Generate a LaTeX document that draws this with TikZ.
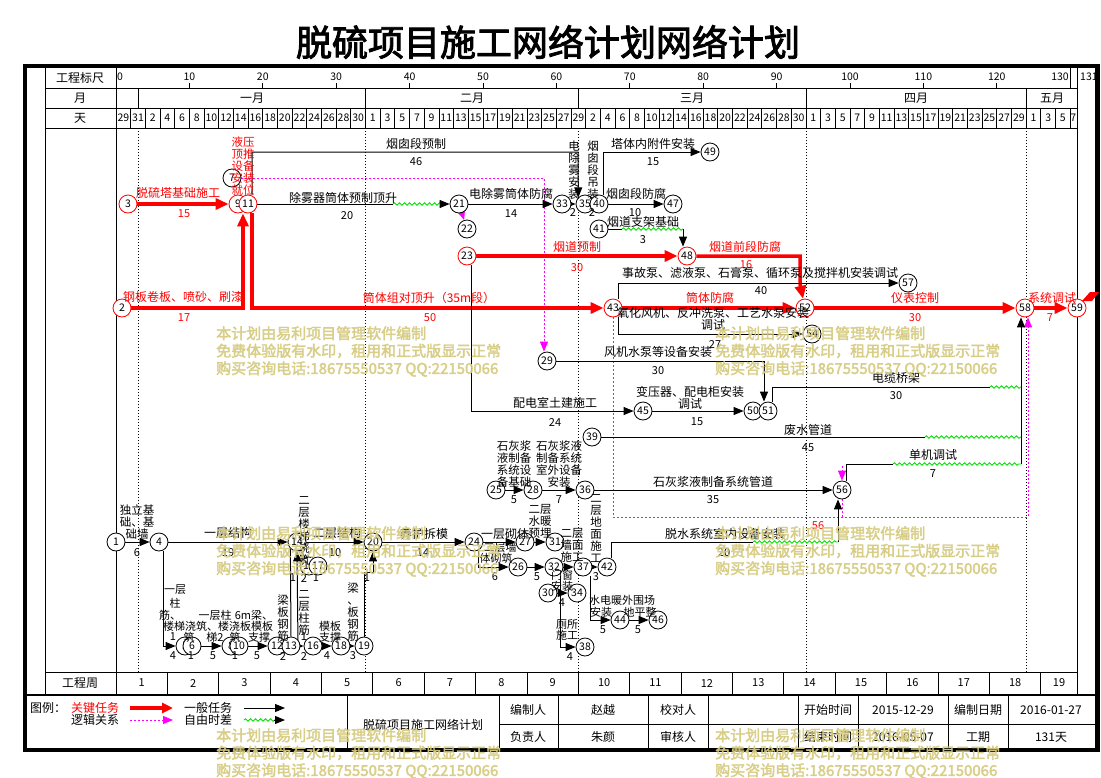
\documentclass[tikz,border=0pt]{standalone}
\usepackage{fontspec}
\setmainfont{Noto Sans CJK SC}
\newfontfamily\cjkb[FakeBold=2.5]{Noto Sans CJK SC}
\usetikzlibrary{arrows.meta,decorations.pathmorphing}
\definecolor{wm}{RGB}{214,203,128}
\definecolor{gr}{RGB}{0,225,0}
\definecolor{mg}{RGB}{255,0,255}
\pgfdeclarelayer{grd}
\pgfdeclarelayer{con}
\pgfdeclarelayer{fg}
\pgfsetlayers{grd,con,main,fg}
\tikzset{
  nd/.style={circle,draw=black,fill=white,line width=0.8pt,inner sep=0pt,minimum size=18pt,font=\fontsize{10.5}{10.5}\selectfont},
  rn/.style={nd,draw=red},
  lb/.style={font=\fontsize{12}{12.5}\selectfont,inner sep=0pt,align=center},
  vl/.style={font=\fontsize{11.5}{12}\selectfont,inner sep=0pt,align=center},
  sl/.style={font=\fontsize{11}{11.5}\selectfont,inner sep=0pt,align=center},
  rlb/.style={lb,text=red},
  nm/.style={font=\fontsize{11}{11}\selectfont,inner sep=0pt},
  rnm/.style={nm,text=red},
  ln/.style={line width=1pt},
  arr/.style={ln,-{Triangle[length=10pt,width=8pt]}},
  crit/.style={red,line width=3.5pt},
  carr/.style={crit,-{Triangle[length=13pt,width=11pt]}},
  wav/.style={gr,line width=0.9pt,decorate,decoration={snake,amplitude=1.2pt,segment length=5pt}},
  mag/.style={mg,line width=1pt,dash pattern=on 1.5pt off 2.5pt},
  marr/.style={mag,-{Triangle[length=10pt,width=8pt]}},
  wmk/.style={text=wm,font=\cjkb\fontsize{15}{17.5}\selectfont,anchor=north west,inner sep=0pt,align=left,opacity=0.9},
  hd/.style={font=\fontsize{12}{12}\selectfont,inner sep=0pt},
  dn/.style={font=\fontsize{10.5}{10.5}\selectfont,inner sep=0pt},
  gl/.style={line width=0.9pt},
  mdot/.style={line width=0.8pt,dash pattern=on 1pt off 2pt},
}
\begin{document}
\begin{tikzpicture}[x=1pt,y=-1pt]
\useasboundingbox (0,0) rectangle (1101,777);
\begin{pgfonlayer}{grd}
\fill[white] (0,0) rectangle (1101,777);
% body month lines
\foreach \d in {3,34,63,94,124} \draw[mdot] (116+7.34*\d,128) -- (116+7.34*\d,672);
% header grid
\draw[gl] (45,66) -- (45,695);
\draw[gl] (116,66) -- (116,695);
\draw[gl] (1077,66) -- (1077,695);
\draw[gl] (45,88) -- (1077,88);
\draw[gl] (45,108) -- (1077,108);
\draw[gl] (45,128) -- (1077,128);
\draw[gl] (45,672) -- (1077,672);
\foreach \k in {1,...,12} \draw[gl] (116+73.4*\k,88) -- (116+73.4*\k,83);
\draw[gl] (116+73.4*13,88) -- (116+73.4*13,68);
\foreach \d in {3,34,63,94,124} \draw[gl] (116+7.34*\d,88) -- (116+7.34*\d,108);
\foreach \i in {1,...,65} \draw[gl] (116+14.68*\i,108) -- (116+14.68*\i,128);
\foreach \k in {1,...,18} \draw[gl] (116+51.38*\k,672) -- (116+51.38*\k,695);
% footer grid
\draw[line width=2pt] (25,695) -- (1097,695);
\draw[gl] (347,695) -- (347,750);
\foreach \x in {499,558,648,708,798,858,948,1008} \draw[gl] (\x,695) -- (\x,750);
\draw[gl] (499,724) -- (1097,724);
\end{pgfonlayer}

% ---------- title
\node[font=\cjkb\fontsize{36}{36}\selectfont] (title) at (548,42) {脱硫项目施工网络计划网络计划};

% ---------- header texts
\node[hd] (h1) at (80,78) {工程标尺};
\node[hd] (h2) at (80,98) {月};
\node[hd] (h3) at (80,118) {天};
\node[hd] (h4) at (80,683) {工程周};
\node[dn,anchor=west] at (117,77) {0};
\foreach \k in {1,...,12}{
  \pgfmathtruncatemacro\v{10*\k}
  \node[dn] at (116+73.4*\k,77) {\v};
}
\node[dn,anchor=east] at (1069,77) {130};
\node[dn,anchor=west] at (1080,77) {131};
\node[hd] at (252,98) {一月};
\node[hd] at (472,98) {二月};
\node[hd] at (692,98) {三月};
\node[hd] at (916,98) {四月};
\node[hd] at (1052,98) {五月};
\node[dn] at (123.34,118) {29};
\node[dn] at (138.02,118) {31};
\foreach \i in {2,...,16}{\pgfmathtruncatemacro\l{2*(\i-1)}\node[dn] at (123.34+14.68*\i,118) {\l};}
\foreach \i in {17,...,31}{\pgfmathtruncatemacro\l{2*(\i-17)+1}\node[dn] at (123.34+14.68*\i,118) {\l};}
\foreach \i in {32,...,46}{\pgfmathtruncatemacro\l{2*(\i-31)}\node[dn] at (123.34+14.68*\i,118) {\l};}
\foreach \i in {47,...,61}{\pgfmathtruncatemacro\l{2*(\i-47)+1}\node[dn] at (123.34+14.68*\i,118) {\l};}
\foreach \i in {62,...,64}{\pgfmathtruncatemacro\l{2*(\i-62)+1}\node[dn] at (123.34+14.68*\i,118) {\l};}
\node[dn] at (1073.3,118) {7};
\foreach \k in {1,...,18} \node[nm] at (116+51.38*\k-25.69,683) {\k};
\node[nm] at (1059,683) {19};

% ---------- nodes
\node[rn] (n3) at (128,204) {3};
\node[rn] (n9) at (238,204) {9};
\node[rn] (n11) at (248,204) {11};
\node[nd] (n7) at (232,178) {7};
\node[rn] (n2) at (122,308) {2};
\node[nd] (n21) at (459,204) {21};
\node[nd] (n22) at (467,229) {22};
\node[rn] (n23) at (467,256) {23};
\node[nd] (n33) at (562,204) {33};
\node[nd] (n35) at (585,204) {35};
\node[nd] (n40) at (599,204) {40};
\node[nd] (n47) at (673,204) {47};
\node[nd] (n49) at (710,152) {49};
\node[nd] (n41) at (599,229) {41};
\node[rn] (n48) at (687,256) {48};
\node[rn] (n43) at (613,308) {43};
\node[rn] (n52) at (805,308) {52};
\node[nd] (n57) at (908,283) {57};
\node[nd] (n54) at (812,334) {54};
\node[rn] (n58) at (1025,308) {58};
\node[rn] (n59) at (1077,308) {59};
\node[nd] (n29) at (547,361) {29};
\node[nd] (n45) at (643,411) {45};
\node[nd] (n50) at (753,411) {50};
\node[nd] (n51) at (768,411) {51};
\node[nd] (n39) at (592,437) {39};
\node[nd] (n25) at (496,490) {25};
\node[nd] (n28) at (533,490) {28};
\node[nd] (n36) at (585,490) {36};
\node[nd] (n56) at (842,490) {56};
\node[nd] (n1) at (116,542) {1};
\node[nd] (n4) at (159,542) {4};
\node[nd] (n14) at (297,542) {14};
\node[nd] (n15) at (309,566) {15};
\node[nd] (n17) at (318,566) {17};
\node[nd] (n20) at (373,542) {20};
\node[nd] (n5) at (185,646) {5};
\node[nd] (n6) at (192,646) {6};
\node[nd] (n8) at (231,646) {8};
\node[nd] (n10) at (239,646) {10};
\node[nd] (n12) at (277,646) {12};
\node[nd] (n13) at (291,646) {13};
\node[nd] (n16) at (313,646) {16};
\node[nd] (n18) at (341,646) {18};
\node[nd] (n19) at (364,646) {19};
\node[nd] (n24) at (474,542) {24};
\node[nd] (n27) at (525,542) {27};
\node[nd] (n31) at (555,542) {31};
\node[nd] (n26) at (518,567) {26};
\node[nd] (n32) at (554,567) {32};
\node[nd] (n37) at (583,567) {37};
\node[nd] (n42) at (607,567) {42};
\node[nd] (n30) at (548,593) {30};
\node[nd] (n34) at (577,593) {34};
\node[nd] (n38) at (585,647) {38};
\node[nd] (n44) at (620,620) {44};
\node[nd] (n46) at (658,620) {46};

% ---------- helper coordinates
\coordinate (w1a) at (393,204); \coordinate (w1b) at (442,204);
\coordinate (w2a) at (622,229); \coordinate (w2b) at (683,229);
\coordinate (w3a) at (990,387); \coordinate (w3b) at (1021,387);
\coordinate (w4a) at (925,437); \coordinate (w4b) at (1021,437);
\coordinate (w5a) at (893,464); \coordinate (w5b) at (1021,464);
\coordinate (w6a) at (753,542); \coordinate (w6b) at (838,542);
\coordinate (b1) at (578,152);
\coordinate (b2) at (544,178);
\coordinate (b3) at (800,256); \coordinate (b4) at (800,284);
\coordinate (m1) at (613,517); \coordinate (m2) at (1028,517);
\coordinate (m3) at (842,466); \coordinate (m4) at (842,517);
\coordinate (j1) at (298,646);
\coordinate (j2) at (364,572);

% ---------- connectors
\begin{pgfonlayer}{con}
% magenta logic links
\draw[marr] (n7) -- (b2) -- ([xshift=-3pt]n29.north);
\draw[marr] (n21) -- (n22);
\draw[marr] (n43.south) -- (m1) -- (m2) -- ([xshift=3pt]n58.south);
\draw[marr] (m3) -- (n56.north);
\draw[mag] (n56.south) -- (m4);
% critical
\draw[carr] (n3) -- (n9);
\draw[carr] (n2) -| ([xshift=5pt]n9.south);
\draw[carr] ([xshift=4pt]n11.south) |- (n43);
\draw[carr] (n23) -- (n48);
\draw[carr] (n48) -- (b3) -- (b4) -- (n52);
\draw[carr] (n43) -- (n52);
\draw[carr] (n52) -- (n58);
\draw[carr] (n58) -- (n59);
% normal
\draw[arr] ([xshift=4pt]n11.north) |- (b1) -- (n35.north west);
\draw[ln] (n11) -- (w1a); \draw[wav] (w1a) -- (w1b); \draw[arr] (w1b) -- (n21);
\draw[arr] (n21) -- (n33);
\draw[arr] (n33) -- (n35);
\draw[arr] (n40) -- (n47);
\draw[arr] ([xshift=4pt]n40.north) |- (n49);
\draw[ln] (n41) -- (w2a); \draw[wav] (w2a) -- (w2b); \draw[arr] (w2b) -- ([xshift=-4pt]n48.north);
\draw[arr] ([xshift=4pt]n23.south) |- (n45);
\draw[arr] (n45) -- (n50);
\draw[arr] (n29) -| ([xshift=-4pt]n51.north);
\draw[ln] ([xshift=4pt]n51.north) |- (w3a); \draw[wav] (w3a) -- (w3b);
\draw[ln] (n39) -- (w4a); \draw[wav] (w4a) -- (w4b);
\draw[ln] ([xshift=4pt]n56.north) |- (w5a); \draw[wav] (w5a) -- (w5b);
\draw[ln] (w3b) -- (w5b);
\draw[arr] (w5b) -- ([xshift=-4pt]n58.south);
\draw[arr] ([xshift=5pt]n43.north) |- (n57);
\draw[arr] ([xshift=5pt]n43.south) |- (n54);
\draw[arr] (n36) -- (n56);
\draw[ln] ([xshift=4pt]n42.north) |- (w6a); \draw[wav] (w6a) -- (w6b); \draw[arr] (w6b) -- ([xshift=-4pt]n56.south);
\draw[arr] (n25) -- (n28);
\draw[arr] (n28) -- (n36);
% bottom middle
\draw[arr] (n20) -- (n24);
\draw[arr] (n24) -- (n27);
\draw[arr] ([xshift=4pt]n24.south) |- (n26);
\draw[arr] (n26) -- (n32);
\draw[arr] (n27) -- (n31);
\draw[arr] (n32) -- (n37);
\draw[arr] (n37) -- (n42);
\draw[arr] ([xshift=6pt]n32.south) |- (n38);
\draw[arr] (n30) -- (n34);
\draw[arr] ([xshift=7pt]n37.south) |- (n44);
\draw[arr] (n44) -- (n46);
% bottom left
\draw[arr] (n1) -- (n4);
\draw[arr] (n4) -- (n14);
\draw[arr] ([xshift=4pt]n4.south) |- (n5);
\draw[arr] (n6) -- (n8);
\draw[arr] (n10) -- (n12);
\draw[arr] (n13) -- (n16);
\draw[arr] (j1) -- (n14.south);
\draw[ln] (n13.north) -- (n14.south west);
\draw[arr] (n16) -- (n18);
\draw[arr] (n18) -- (n19);
\draw[arr] (n19.north) -- (j2) -| (n20.south);
\draw[arr] (n14) -- (n20);
\draw[ln] (n14) -- (n15);
\end{pgfonlayer}

% ---------- task labels (top)
\node[rlb] at (178,193) {脱硫塔基础施工};
\node[rnm] at (184,214) {15};
\node[rlb] at (183,297) {钢板卷板、喷砂、刷漆};
\node[rnm] at (184,318) {17};
\node[vl,text=red] at (243,166) {液压\\顶推\\设备\\安装\\就位};
\node[rlb] at (429,298) {筒体组对顶升（35m段）};
\node[rnm] at (430,318) {50};
\node[rlb] at (577,247) {烟道预制};
\node[rnm] at (577,268) {30};
\node[rlb] at (745,247) {烟道前段防腐};
\node[rnm] at (746,265) {16};
\node[rlb] at (710,298) {筒体防腐};
\node[rlb] at (915,298) {仪表控制};
\node[rnm] at (915,318) {30};
\node[rlb] at (1052,298) {系统调试};
\node[rnm] at (1050,318) {7};

\node[lb] at (416,144) {烟囱段预制};
\node[nm] at (416,162) {46};
\node[lb] at (343,198) {除雾器筒体预制顶升};
\node[nm] at (347,216) {20};
\node[lb] at (511,194) {电除雾筒体防腐};
\node[nm] at (511,214) {14};
\node[vl] at (574,170) {电\\除\\雾\\安\\装};
\node[nm] at (573,213) {2};
\node[vl] at (593,170) {烟\\囱\\段\\吊\\装};
\node[nm] at (592,213) {2};
\node[lb] at (653,144) {塔体内附件安装};
\node[nm] at (653,162) {15};
\node[lb] at (636,194) {烟囱段防腐};
\node[nm] at (635,213) {10};
\node[lb] at (643,222) {烟道支架基础};
\node[nm] at (643,240) {3};
\node[lb] at (760,273) {事故泵、滤液泵、石膏泵、循环泵及搅拌机安装调试};
\node[nm] at (761,291) {40};
\node[lb] at (713,319) {氧化风机、反冲洗泵、工艺水泵安装\\调试};
\node[nm] at (715,345) {27};
\node[lb] at (658,352) {风机水泵等设备安装};
\node[nm] at (658,371) {30};
\node[lb] at (555,403) {配电室土建施工};
\node[nm] at (555,422) {24};
\node[lb] at (690,398) {变压器、配电柜安装\\调试};
\node[nm] at (697,422) {15};
\node[lb] at (896,378) {电缆桥架};
\node[nm] at (896,396) {30};
\node[lb] at (808,430) {废水管道};
\node[nm] at (808,448) {45};
\node[lb] at (933,455) {单机调试};
\node[nm] at (933,474) {7};
\node[lb] at (713,482) {石灰浆液制备系统管道};
\node[nm] at (713,500) {35};
\node[lb] at (725,534) {脱水系统室内设备安装};
\node[nm] at (724,553) {20};
\node[rnm] at (818,526) {56};
\node[vl] at (514,464) {石灰浆\\液制备\\系统设\\备基础};
\node[nm] at (514,500) {5};
\node[vl] at (559,464) {石灰浆液\\制备系统\\室外设备\\安装};
\node[nm] at (559,500) {7};

% ---------- bottom left labels
\node[vl] at (137,522) {独立基\\础、基\\础墙};
\node[nm] at (137,553) {6};
\node[lb] at (228,533) {一层结构};
\node[nm] at (228,553) {19};
\node[lb] at (337,533) {二层结构};
\node[nm] at (335,553) {10};
\node[vl] at (304,531) {二\\层\\楼\\梯\\浇\\筑};
\node[sl] at (175,590) {一层};
\node[sl] at (175,603) {柱};
\node[sl] at (170,615) {筋、};
\node[sl] at (218,626) {楼梯浇筑、楼浇板模板};
\node[sl] at (215,615) {一层柱};
\node[sl] at (254,615) {6m梁、};
\node[sl] at (189,637) {筑};
\node[sl] at (215,637) {梯2};
\node[sl] at (235,637) {筑};
\node[sl] at (259,637) {支撑};
\node[sl] at (330,626) {模板};
\node[sl] at (330,637) {支撑};
\node[vl] at (283,618) {梁\\板\\钢\\筋};
\node[vl] at (304,613) {二\\层\\柱\\筋};
\node[vl] at (353,612) {梁\\、\\板\\钢\\筋};
\node[nm] at (173,637) {1};
\node[nm] at (304,637) {1};
\foreach \x/\t in {173/4,191/1,213/5,235/1,257/5,283/2,304/2,327/4,353/3}
  \node[nm] at (\x,656) {\t};
\foreach \x/\t in {293/1,304/2,316/1,367/1}
  \node[nm] at (\x,578) {\t};

% ---------- bottom middle labels
\node[lb] at (424,534) {养护拆模};
\node[nm] at (423,553) {14};
\node[lb] at (505,534) {一层砌体};
\node[sl] at (500,547) {二层墙};
\node[sl] at (496,558) {体砌筑};
\node[nm] at (495,577) {6};
\node[nm] at (537,577) {5};
\node[vl] at (540,521) {二层\\水暖\\预埋};
\node[vl] at (572,545) {二层\\墙面\\施工};
\node[nm] at (596,577) {3};
\node[vl] at (596,529) {二\\层\\地\\面\\施\\工};
\node[sl] at (562,581) {门窗\\安装};
\node[nm] at (562,603) {4};
\node[sl] at (567,630) {厕所\\施工};
\node[nm] at (570,657) {4};
\node[sl] at (622,600) {水电暖外围场};
\node[sl] at (601,612) {安装};
\node[sl] at (640,612) {地平整};
\node[nm] at (603,630) {5};
\node[nm] at (638,630) {5};

% ---------- footer
\node[hd,anchor=west] at (30,708) {图例：};
\node[hd,text=red] at (95,708) {关键任务};
\draw[red,line width=3.5pt,-{Triangle[length=11pt,width=10pt]}] (130,708) -- (173,708);
\node[hd] at (208,708) {一般任务};
\draw[arr] (244,708) -- (285,708);
\node[hd] at (95,720) {逻辑关系};
\draw[marr] (130,720) -- (173,720);
\node[hd] at (208,720) {自由时差};
\draw[wav] (244,720) -- (275,720);
\draw[arr] (274,720) -- (285,720);
\node[hd] at (423,725) {脱硫项目施工网络计划};
\node[hd] at (528,710) {编制人};
\node[hd] at (603,710) {赵越};
\node[hd] at (678,710) {校对人};
\node[hd] at (828,710) {开始时间};
\node[hd] at (903,710) {2015-12-29};
\node[hd] at (978,710) {编制日期};
\node[hd] at (1051,710) {2016-01-27};
\node[hd] at (528,737) {负责人};
\node[hd] at (603,737) {朱颜};
\node[hd] at (678,737) {审核人};
\node[hd] at (828,737) {结束时间};
\node[hd] at (903,737) {2016-05-07};
\node[hd] at (978,737) {工期};
\node[hd] at (1051,737) {131天};

% ---------- frame, flag and watermark
\begin{pgfonlayer}{fg}
\draw[line width=4pt] (25,66) -- (1097,66);
\draw[line width=4pt] (25,750) -- (1097,750);
\draw[line width=4pt] (25,64) -- (25,752);
\draw[line width=5pt] (1097,64) -- (1097,752);
\fill[red] (1090,292) -- (1099,292) -- (1092,301) -- (1082,301) -- cycle;
\foreach \x/\y in {216/326,715/326,216/526,715/526,216/728,715/728}
  \node[wmk] at (\x,\y) {本计划由易利项目管理软件编制\\免费体验版有水印，租用和正式版显示正常\\购买咨询电话:18675550537 QQ:22150066};
\end{pgfonlayer}
\end{tikzpicture}
\end{document}
